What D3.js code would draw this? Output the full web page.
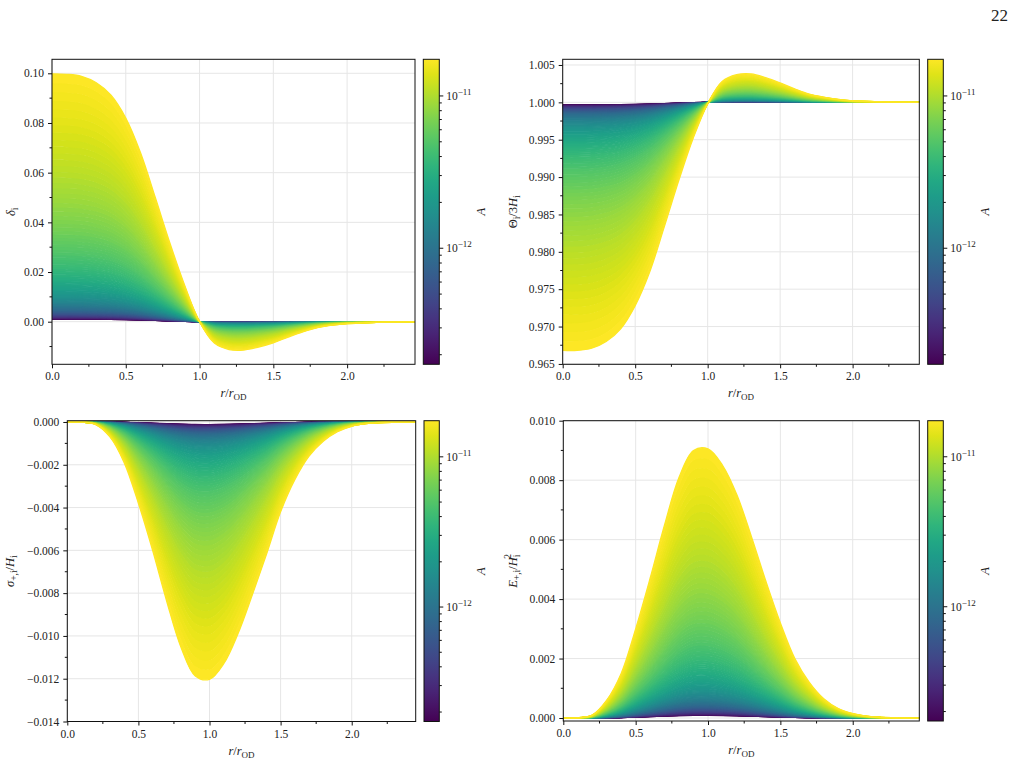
<!DOCTYPE html>
<html>
<head>
<meta charset="utf-8">
<script src="https://cdn.jsdelivr.net/npm/d3@7"></script>
<style>
  body { margin: 0; background: #fff; }
  svg { display: block; }
  text { font-family: "Liberation Serif", "DejaVu Serif", serif; fill: #222; }
</style>
</head>
<body>
<div id="chart"></div>
<script>
// ── data ────────────────────────────────────────────────────────────────────
// profiles of the largest amplitude (yellow edge), sampled at rGrid
const rGrid     = [0, 0.1, 0.2, 0.3, 0.4, 0.5, 0.6, 0.7, 0.8, 0.9, 1.0, 1.1, 1.2,
                   1.3, 1.4, 1.5, 1.6, 1.7, 1.8, 1.9, 2.0, 2.1, 2.2, 2.3, 2.4, 2.5];
const deltaMax  = [0.0998, 0.0996, 0.0988, 0.0962, 0.0912, 0.0820, 0.0680, 0.0500, 0.0315,
                   0.0145, 0.0, -0.0086, -0.0112, -0.0114, -0.0102, -0.0085, -0.0062, -0.0041,
                   -0.0024, -0.0014, -0.0008, -0.0005, -0.0003, -0.00015, -0.00005, 0];
const thetaMax  = [0.9668, 0.9668, 0.9671, 0.9680, 0.9697, 0.9728, 0.9773, 0.9833, 0.9895,
                   0.9952, 0.9998, 1.0028, 1.0037, 1.0038, 1.0033, 1.0026, 1.0018, 1.0011,
                   1.0007, 1.0004, 1.0002, 1.00013, 1.00007, 1.00003, 1.00001, 1.0];
const sigmaMax  = [0, -0.00001, -0.00012, -0.0007, -0.0019, -0.0038, -0.0060, -0.0084, -0.01054,
                   -0.01187, -0.01203, -0.0113, -0.0099, -0.0081, -0.0062, -0.0042, -0.0027,
                   -0.0016, -0.0009, -0.00045, -0.0002, -0.00008, -0.00003, -0.00001, 0, 0];
const energyMax = [0, 0.00001, 0.0001, 0.0006, 0.0015, 0.0030, 0.0047, 0.0065, 0.0081, 0.0090,
                   0.00905, 0.0085, 0.0075, 0.0061, 0.0046, 0.0032, 0.0020, 0.0012, 0.00065,
                   0.00032, 0.00015, 0.00006, 0.00002, 0.00001, 0, 0];

const ampRange     = [1.73e-13, 1.74e-11];   // colour bar extent of A
const cbMajorTicks = [1e-12, 1e-11];
const xTicks       = [0, 0.5, 1.0, 1.5, 2.0];
const deltaTicks   = [0, 0.02, 0.04, 0.06, 0.08, 0.10];
const thetaTicks   = [0.965, 0.970, 0.975, 0.980, 0.985, 0.990, 0.995, 1.000, 1.005];
const sigmaTicks   = [-0.014, -0.012, -0.010, -0.008, -0.006, -0.004, -0.002, 0.000];
const energyTicks  = [0.000, 0.002, 0.004, 0.006, 0.008, 0.010];

// ── layout ──────────────────────────────────────────────────────────────────
const W = 1015, H = 763;
const C = { grid: '#e6e6e6', spine: '#111', text: '#222' };
const NCURVES = 120;

const svg = d3.select('#chart').append('svg').attr('width', W).attr('height', H);
const defs = svg.append('defs');

svg.append('text').attr('x', 1008).attr('y', 21).attr('text-anchor', 'end')
  .attr('font-size', 17).text('22');

// viridis gradient for the colour bars
const grad = defs.append('linearGradient').attr('id', 'viridis')
  .attr('x1', 0).attr('x2', 0).attr('y1', 1).attr('y2', 0);
d3.range(0, 1.0001, 0.05).forEach(t => {
  grad.append('stop').attr('offset', t).attr('stop-color', d3.interpolateViridis(t));
});

const amps = d3.range(NCURVES).map(i => ampRange[0] * Math.pow(ampRange[1] / ampRange[0], i / (NCURVES - 1)));
const cNorm = d3.scaleLog().domain(ampRange).range([0, 1]);

function fmtMinus(s) { return s.replace('-', '\u2212'); }

function drawPanel(p) {
  const x = d3.scaleLinear().domain([0, p.xMax]).range([p.x0, p.x1]);
  const y = d3.scaleLinear().domain(p.yDomain).range([p.y1, p.y0]);
  const g = svg.append('g');

  const clipId = 'clip' + p.id;
  defs.append('clipPath').attr('id', clipId).append('rect')
    .attr('x', p.x0).attr('y', p.y0).attr('width', p.x1 - p.x0).attr('height', p.y1 - p.y0);

  // grid
  xTicks.forEach(v => g.append('line').attr('x1', x(v)).attr('x2', x(v))
    .attr('y1', p.y0).attr('y2', p.y1).attr('stroke', C.grid).attr('stroke-width', 1));
  p.yTicks.forEach(v => g.append('line').attr('x1', p.x0).attr('x2', p.x1)
    .attr('y1', y(v)).attr('y2', y(v)).attr('stroke', C.grid).attr('stroke-width', 1));

  // family of curves, smallest A first
  const plot = g.append('g').attr('clip-path', `url(#${clipId})`);
  const val = (j, A) => p.base + (p.profile[j] - p.base) * A / ampRange[1];
  const line = d3.line().x(d => x(d.r)).y(d => y(d.v)).curve(d3.curveCatmullRom);
  const area = d3.area().x(d => x(d.r)).y0(d => y(d.lo)).y1(d => y(d.hi)).curve(d3.curveCatmullRom);

  amps.forEach((A, k) => {
    const col = d3.interpolateViridis(cNorm(A));
    if (k > 0) {
      const band = rGrid.map((r, j) => ({ r, lo: val(j, amps[k - 1]), hi: val(j, A) }));
      plot.append('path').attr('d', area(band)).attr('fill', col).attr('stroke', 'none');
    }
    const pts = rGrid.map((r, j) => ({ r, v: val(j, A) }));
    plot.append('path').attr('d', line(pts)).attr('fill', 'none')
      .attr('stroke', col).attr('stroke-width', 1.3);
  });

  // spines
  g.append('rect').attr('x', p.x0).attr('y', p.y0).attr('width', p.x1 - p.x0)
    .attr('height', p.y1 - p.y0).attr('fill', 'none').attr('stroke', C.spine).attr('stroke-width', 1);

  // x axis
  const xAx = g.append('g').attr('transform', `translate(0,${p.y1})`)
    .call(d3.axisBottom(x).tickValues(xTicks).tickSize(4).tickSizeOuter(0).tickPadding(4)
      .tickFormat(d3.format('.1f')));
  xAx.append('g').selectAll('line').data(d3.range(0.25, p.xMax, 0.5)).join('line')
    .attr('x1', d => x(d)).attr('x2', d => x(d)).attr('y1', 0).attr('y2', 2.5).attr('stroke', C.spine);

  // y axis
  const yAx = g.append('g').attr('transform', `translate(${p.x0},0)`)
    .call(d3.axisLeft(y).tickValues(p.yTicks).tickSize(4).tickSizeOuter(0).tickPadding(4)
      .tickFormat(d => fmtMinus(d3.format(p.yFmt)(d))));
  yAx.append('g').selectAll('line').data(p.yMinor).join('line')
    .attr('x1', 0).attr('x2', -2.5).attr('y1', d => y(d)).attr('y2', d => y(d)).attr('stroke', C.spine);

  [xAx, yAx].forEach(ax => {
    ax.select('.domain').remove();
    ax.selectAll('.tick line').attr('stroke', C.spine);
    ax.selectAll('text').attr('font-size', 11.5).attr('fill', C.text)
      .attr('font-family', '"Liberation Serif", serif');
  });

  // x label  r / r_OD
  const xl = g.append('text').attr('x', (p.x0 + p.x1) / 2).attr('y', p.y1 + 33)
    .attr('text-anchor', 'middle').attr('font-size', 12.5);
  xl.append('tspan').attr('font-style', 'italic').text('r');
  xl.append('tspan').text('/');
  xl.append('tspan').attr('font-style', 'italic').text('r');
  xl.append('tspan').attr('font-size', 9).attr('dy', 3).text('OD');

  // y label
  const yl = g.append('text')
    .attr('transform', `translate(${p.ylabX},${(p.y0 + p.y1) / 2}) rotate(-90)`)
    .attr('text-anchor', 'middle').attr('font-size', 12.5);
  p.ylabel(yl);

  // colour bar
  const cy = d3.scaleLog().domain(ampRange).range([p.y1, p.y0]);
  const cb = svg.append('g');
  cb.append('rect').attr('x', p.cb0).attr('y', p.y0).attr('width', p.cb1 - p.cb0)
    .attr('height', p.y1 - p.y0).attr('fill', 'url(#viridis)')
    .attr('stroke', C.spine).attr('stroke-width', 1);
  const minor = [];
  [1e-13, 1e-12, 1e-11].forEach(dec => d3.range(2, 10).forEach(m => {
    const v = m * dec;
    if (v > ampRange[0] && v < ampRange[1]) minor.push(v);
  }));
  cb.selectAll('.mn').data(minor).join('line')
    .attr('x1', p.cb1).attr('x2', p.cb1 + 2.5).attr('y1', d => cy(d)).attr('y2', d => cy(d))
    .attr('stroke', C.spine);
  cbMajorTicks.forEach(v => {
    cb.append('line').attr('x1', p.cb1).attr('x2', p.cb1 + 4)
      .attr('y1', cy(v)).attr('y2', cy(v)).attr('stroke', C.spine);
    const t = cb.append('text').attr('x', p.cb1 + 7).attr('y', cy(v) + 4).attr('font-size', 11.5);
    t.append('tspan').text('10');
    t.append('tspan').attr('font-size', 9).attr('dy', -5).text('\u2212' + (-Math.log10(v)).toFixed(0));
  });
  cb.append('text')
    .attr('transform', `translate(${p.cb1 + 46},${(p.y0 + p.y1) / 2}) rotate(-90)`)
    .attr('text-anchor', 'middle').attr('font-size', 12.5).attr('font-style', 'italic').text('A');
}

function sub(t, s, dy = 3) { t.append('tspan').attr('font-size', 9.5).attr('dy', dy).text(s); }

drawPanel({
  id: 'TL', x0: 52, x1: 415, y0: 59.3, y1: 364.3, cb0: 423.3, cb1: 439.3, xMax: 2.46,
  yDomain: [-0.01715, 0.10564], yTicks: deltaTicks, yFmt: '.2f',
  yMinor: d3.range(-0.01, 0.101, 0.02), ylabX: 15, profile: deltaMax, base: 0,
  ylabel: t => { t.append('tspan').attr('font-style', 'italic').text('δ'); sub(t, 'i'); }
});
drawPanel({
  id: 'TR', x0: 562.7, x1: 919.3, y0: 59.3, y1: 364.3, cb0: 927.7, cb1: 943.3, xMax: 2.46,
  yDomain: [0.96495, 1.00576], yTicks: thetaTicks, yFmt: '.3f',
  yMinor: d3.range(0.9675, 1.005, 0.005), ylabX: 517, profile: thetaMax, base: 1,
  ylabel: t => {
    t.append('tspan').text('Θ'); sub(t, 'i');
    t.append('tspan').attr('dy', -3).text('/3');
    t.append('tspan').attr('font-style', 'italic').text('H'); sub(t, 'i');
  }
});
drawPanel({
  id: 'BL', x0: 67.3, x1: 415.7, y0: 420.7, y1: 721.5, cb0: 424, cb1: 439.3, xMax: 2.45,
  yDomain: [-0.014, 0.00006], yTicks: sigmaTicks, yFmt: '.3f',
  yMinor: d3.range(-0.013, 0, 0.002), ylabX: 14, profile: sigmaMax, base: 0,
  ylabel: t => {
    t.append('tspan').attr('font-style', 'italic').text('σ'); sub(t, '+,i');
    t.append('tspan').attr('dy', -3).text('/');
    t.append('tspan').attr('font-style', 'italic').text('H'); sub(t, 'i');
  }
});
drawPanel({
  id: 'BR', x0: 563.3, x1: 919.3, y0: 420.7, y1: 721, cb0: 927.7, cb1: 943.3, xMax: 2.46,
  yDomain: [-0.0001, 0.010], yTicks: energyTicks, yFmt: '.3f',
  yMinor: d3.range(0.001, 0.010, 0.002), ylabX: 517, profile: energyMax, base: 0,
  ylabel: t => {
    t.append('tspan').attr('font-style', 'italic').text('E'); sub(t, '+,i');
    t.append('tspan').attr('dy', -3).text('/');
    t.append('tspan').attr('font-style', 'italic').text('H'); sub(t, 'i');
    t.append('tspan').attr('font-size', 9.5).attr('dx', -4).attr('dy', -9).text('2');
  }
});
</script>
</body>
</html>
